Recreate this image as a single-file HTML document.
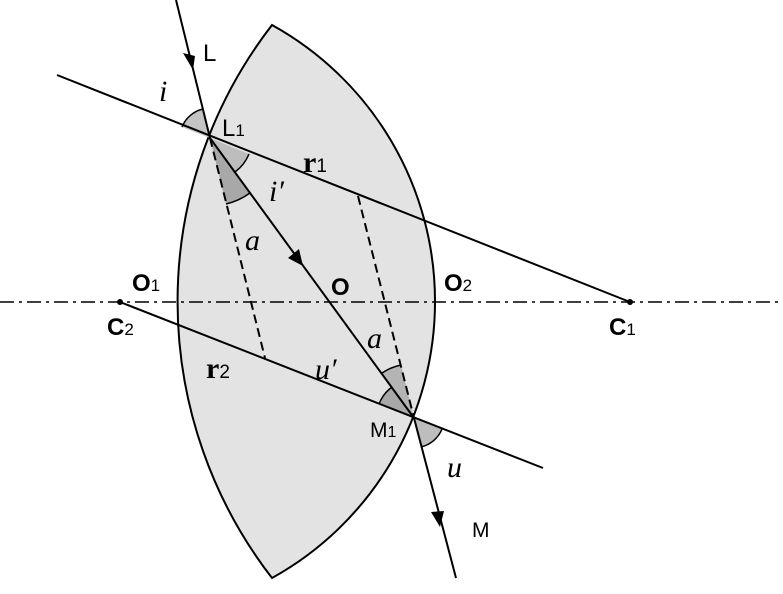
<!DOCTYPE html>
<html><head><style>body{margin:0;background:#fff}svg{display:block}</style></head><body>
<svg width="783" height="594" viewBox="0 0 783 594" xmlns="http://www.w3.org/2000/svg">
<path d="M272,25 A316,316 0 0 1 272,578 A452,452 0 0 1 272,25 Z" fill="#e3e3e3" stroke="#000" stroke-width="2"/>
<line x1="0" y1="302" x2="783" y2="302" stroke="#000" stroke-width="1.5" stroke-dasharray="14,5,3,5"/>
<path d="M210,138 L203,109 A30,30 0 0 0 182,127 Z" fill="#c4c4c4"/>
<path d="M210,138 L249,154 A42,42 0 0 1 235,172 Z" fill="#bdbdbd"/>
<path d="M210,138 L250,193 A68,68 0 0 1 226,204 Z" fill="#a8a8a8"/>
<path d="M414,418 L379,404 A38,38 0 0 1 392,387 Z" fill="#a8a8a8"/>
<path d="M414,418 L382,373 A55,55 0 0 1 401,365 Z" fill="#b4b4b4"/>
<path d="M414,418 L442,429 A30,30 0 0 1 421,447 Z" fill="#bdbdbd"/>
<path d="M203,109 A30,30 0 0 0 182,127 M249,154 A42,42 0 0 1 235,172 M250,193 A68,68 0 0 1 226,204 M379,404 A38,38 0 0 1 392,387 M382,373 A55,55 0 0 1 401,365 M442,429 A30,30 0 0 1 421,447" fill="none" stroke="#000" stroke-width="1.5"/>
<g stroke="#000" stroke-width="2" fill="none">
<line x1="176" y1="0" x2="210" y2="138"/>
<line x1="57" y1="75" x2="630" y2="302"/>
<line x1="210" y1="138" x2="414" y2="418"/>
<line x1="120" y1="302" x2="543" y2="468"/>
<line x1="414" y1="418" x2="456" y2="578"/>
</g>
<g stroke="#000" stroke-width="2" stroke-dasharray="9,5">
<line x1="210" y1="138" x2="265" y2="358"/>
<line x1="358" y1="196" x2="414" y2="418"/>
</g>
<polygon points="193,70 183,53 195,56" fill="#000"/>
<polygon points="303,266 288,258 299,249" fill="#000"/>
<polygon points="440,527 431,512 444,511" fill="#000"/>
<circle cx="120" cy="302" r="3" fill="#000"/>
<circle cx="630" cy="302" r="3" fill="#000"/>
<g font-family="Liberation Sans, sans-serif" font-size="24" fill="#000">
<text x="203" y="61">L</text>
<text x="222" y="136">L<tspan font-size="17">1</tspan></text>
<text x="132" y="291" font-weight="bold">O<tspan font-size="17" font-weight="normal">1</tspan></text>
<text x="331" y="295" font-weight="bold">O</text>
<text x="444" y="291" font-weight="bold">O<tspan font-size="17" font-weight="normal">2</tspan></text>
<text x="107" y="335" font-weight="bold">C<tspan font-size="17" font-weight="normal">2</tspan></text>
<text x="609" y="335" font-weight="bold">C<tspan font-size="17" font-weight="normal">1</tspan></text>
<text x="370" y="437" font-size="21">M<tspan font-size="16">1</tspan></text>
<text x="472" y="537" font-size="21">M</text>
</g>
<g font-family="Liberation Serif, serif" font-size="30" fill="#000">
<text x="303" y="172" font-weight="bold">r<tspan font-family="Liberation Sans, sans-serif" font-size="19" font-weight="normal">1</tspan></text>
<text x="206" y="378" font-weight="bold">r<tspan font-family="Liberation Sans, sans-serif" font-size="19" font-weight="normal">2</tspan></text>
<g font-style="italic">
<text x="159" y="101">i</text>
<text x="269" y="201">i′</text>
<text x="245" y="250">a</text>
<text x="367" y="348">a</text>
<text x="315" y="379">u′</text>
<text x="447" y="477">u</text>
</g>
</g>
</svg>
</body></html>
